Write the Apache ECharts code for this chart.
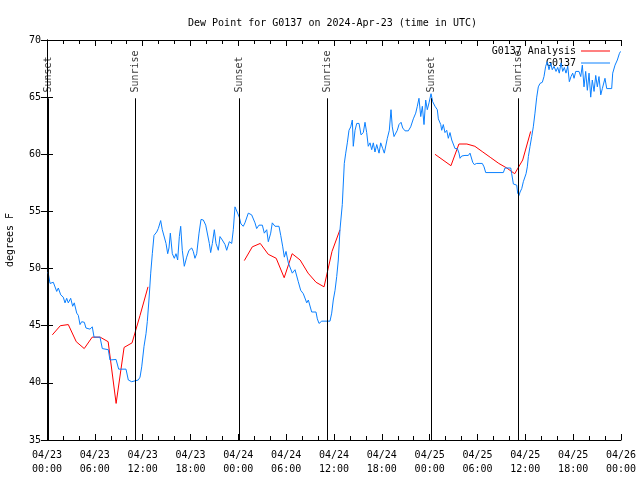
<!DOCTYPE html>
<html>
<head>
<meta charset="utf-8">
<script src="https://cdn.jsdelivr.net/npm/echarts@6/dist/echarts.min.js"></script>
<style>html,body{margin:0;padding:0;background:#fff}#c{width:640px;height:480px}</style>
</head>
<body>
<div id="c"></div>
<script>
// Hours since 2024-04-23 00:00 UTC
const obsTimes = [0.13,0.38,0.79,1.22,1.42,1.72,2.04,2.26,2.47,2.67,2.97,3.22,3.42,3.73,3.93,4.14,4.35,4.68,4.89,5.39,5.68,5.90,6.65,6.94,7.69,7.90,8.66,8.74,8.99,9.91,10.20,10.62,11.45,11.67,11.88,12.17,12.42,12.58,12.79,13.01,13.21,13.42,13.76,13.96,14.26,14.46,14.68,14.93,15.14,15.30,15.47,15.72,15.97,16.18,16.39,16.60,16.77,16.97,17.22,17.52,17.81,18.15,18.35,18.56,18.78,19.07,19.32,19.61,19.91,20.16,20.36,20.53,20.74,20.99,21.20,21.49,21.70,21.99,22.33,22.54,22.87,23.17,23.37,23.58,23.80,24.12,24.33,24.62,24.83,25.25,25.67,26.09,26.30,26.59,27.01,27.26,27.56,27.76,28.06,28.26,28.60,29.10,29.32,29.57,29.77,29.98,30.27,30.48,30.77,31.11,31.32,31.52,31.82,32.15,32.58,32.78,32.99,33.20,33.74,33.91,34.12,34.46,35.50,35.71,35.91,36.13,36.34,36.54,36.75,37.04,37.29,37.47,37.67,37.88,38.10,38.30,38.42,38.64,38.85,39.14,39.39,39.68,39.89,40.10,40.30,40.52,40.73,40.93,41.14,41.36,41.65,41.86,42.11,42.31,42.52,42.69,42.94,43.15,43.31,43.53,43.74,43.94,44.15,44.41,44.62,44.91,45.32,45.62,45.95,46.25,46.45,46.66,46.88,47.08,47.29,47.50,47.70,47.92,48.17,48.38,48.67,48.96,49.09,49.39,49.51,49.71,49.92,50.14,50.34,50.55,50.77,50.97,51.18,51.47,51.68,51.81,52.02,52.43,52.85,53.06,53.27,53.40,53.60,53.90,54.60,54.82,55.03,57.24,57.45,58.17,58.29,58.42,58.50,58.92,59.04,59.21,59.34,59.55,59.75,59.96,60.09,60.25,60.38,60.59,60.80,61.00,61.21,61.43,61.63,61.84,62.13,62.34,62.55,62.76,62.97,63.18,63.38,63.60,63.85,64.06,64.26,64.48,64.69,64.89,65.10,65.32,65.52,65.73,65.94,66.11,66.32,66.52,66.73,66.95,67.15,67.36,67.57,67.78,67.99,68.20,68.40,68.62,68.83,69.03,69.24,69.46,69.66,69.99,70.21,70.83,70.96,71.25,71.54,71.79,71.94];
const obsValues = [49.7,48.7,48.8,48.0,48.3,47.7,47.5,47.0,47.4,47.0,47.4,46.7,47.0,46.1,45.9,45.1,45.35,45.3,44.8,44.7,44.9,44.0,44.0,43.0,42.9,42.0,42.05,42.1,41.2,41.2,40.25,40.1,40.25,40.5,41.4,43.2,44.3,45.35,47.25,49.6,51.3,52.9,53.2,53.5,54.2,53.4,53.5,52.2,51.3,51.8,53.1,51.3,50.9,51.3,50.75,52.8,53.7,51.6,50.2,51.0,51.6,51.8,51.5,50.9,51.3,53.1,54.3,54.25,53.8,53.7,52.2,51.4,52.2,53.4,52.2,51.6,52.8,52.5,52.1,51.6,52.35,52.2,53.4,55.4,55.3,54.5,53.9,53.7,54.0,54.85,54.7,54.0,53.5,53.8,53.8,53.1,53.4,52.35,53.1,54.0,53.7,53.7,52.9,51.9,51.0,51.5,50.5,50.6,49.6,49.9,49.9,48.85,48.1,47.8,47.0,47.25,47.25,46.2,46.2,45.6,45.2,45.4,45.4,46.1,47.25,48.1,49.3,50.75,53.4,55.6,59.2,60.1,61.0,62.1,62.4,63.0,60.7,62.1,62.7,62.7,61.7,61.9,62.8,61.9,60.7,61.0,60.4,61.0,60.2,60.85,60.1,61.0,60.5,60.1,60.1,61.4,62.1,63.9,62.4,61.55,61.55,62.1,62.6,62.8,62.3,62.05,62.05,62.4,63.1,63.6,64.2,64.9,63.3,64.2,62.6,64.75,63.9,64.5,65.3,64.6,64.2,63.9,63.1,62.6,62.1,62.6,61.9,62.1,61.4,61.9,61.25,61.25,60.5,60.5,60.1,59.65,59.85,59.9,59.9,60.1,60.1,59.3,59.1,59.2,59.2,58.9,58.4,58.4,58.8,58.8,58.3,57.75,57.4,57.3,56.6,56.4,56.7,57.0,57.6,57.75,58.3,58.9,59.8,60.7,61.55,62.4,63.6,65.0,65.9,66.2,66.3,66.8,67.7,68.1,67.4,68.0,67.4,67.7,67.25,67.6,67.1,68.0,67.25,67.6,67.1,67.7,66.35,66.8,67.1,66.65,67.25,67.1,67.25,66.8,67.8,65.9,67.25,65.6,67.1,65.0,66.5,65.5,66.9,65.9,66.8,65.2,65.75,66.65,65.75,65.75,67.1,67.8,68.25,68.8,69.0];

// Analysis segments (hours, value)
const anaTimes1 = [0.67,1.67,2.67,3.67,4.67,5.67,6.67,7.67,8.67,9.67,10.67,11.67,12.67];
const anaValues1 = [44.2,45.0,45.1,43.6,43.0,44.0,44.0,43.6,38.2,43.1,43.5,45.9,48.4];
const anaTimes2 = [24.75,25.75,26.75,27.75,28.75,29.75,30.75,31.75,32.75,33.75,34.75,35.75,36.75];
const anaValues2 = [50.7,51.9,52.2,51.25,50.9,49.2,51.3,50.75,49.6,48.8,48.4,51.5,53.4];
const anaTimes3 = [48.67,49.67,50.67,51.67,52.67,53.67,54.67,55.67,56.67,57.67,58.67,59.67,60.67];
const anaValues3 = [60.0,59.5,59.0,60.9,60.9,60.7,60.2,59.7,59.2,58.8,58.3,59.5,62.0];

const sunTimes = [0.15,11.08,24.08,35.16,48.21,59.12];
const sunNames = ['Sunset','Sunrise','Sunset','Sunrise','Sunset','Sunrise'];
const sunLineTop = 64.9;
const sunLabelBase = 65.4;

const seriesNames = ['G0137 Analysis','G0137'];
const titleText = 'Dew Point for G0137 on 2024-Apr-23 (time in UTC)';
const yAxisName = 'degrees F';

const FONT = 'DejaVu Sans Mono';
const baseMs = Date.UTC(2024,3,23,0,0,0);
function pad(n){return (n<10?'0':'')+n;}
function fmtX(v){
  const d = new Date(baseMs + Math.round(v*3600000));
  return pad(d.getUTCMonth()+1)+'/'+pad(d.getUTCDate())+'\n'+pad(d.getUTCHours())+':'+pad(d.getUTCMinutes());
}
function zip(t,v){return t.map((x,i)=>[x,v[i]]);}
const anaData = zip(anaTimes1,anaValues1).concat([[18,null]], zip(anaTimes2,anaValues2), [[42,null]], zip(anaTimes3,anaValues3));
const obsData = zip(obsTimes,obsValues);

const chart = echarts.init(document.getElementById('c'), null, {renderer:'canvas'});
const axisCommon = {
  min:0, max:72, interval:6,
  axisLine:{show:true, lineStyle:{color:'#000', width:1}},
  splitLine:{show:false}
};
chart.setOption({
  animation:false,
  backgroundColor:'#fff',
  textStyle:{fontFamily:FONT},
  title:{text:titleText, left:183, top:13, textStyle:{fontFamily:FONT, fontSize:10, fontWeight:'normal', color:'#000'}},
  grid:{left:47, right:19, top:40, bottom:40, containLabel:false, outerBoundsMode:'none'},
  legend:[
    {data:[seriesNames[0]], right:30, top:46, padding:0, orient:'vertical', align:'right', icon:'rect', itemWidth:29, itemHeight:1, itemGap:6,
     textStyle:{fontFamily:FONT, fontSize:10, color:'#000'}},
    {data:[seriesNames[1]], right:30, top:58, padding:0, orient:'vertical', align:'right', icon:'rect', itemWidth:29, itemHeight:1, itemGap:6,
     textStyle:{fontFamily:FONT, fontSize:10, color:'#000'}}
  ],
  xAxis:[
    Object.assign({type:'value', position:'bottom',
      axisTick:{show:true, inside:true, length:6, lineStyle:{color:'#000'}},
      minorTick:{show:true, splitNumber:3, length:4, lineStyle:{color:'#000'}},
      axisLabel:{formatter:fmtX, fontFamily:FONT, fontSize:10, color:'#000', lineHeight:14, margin:8}
    }, axisCommon),
    Object.assign({type:'value', position:'top',
      axisTick:{show:true, inside:true, length:6, lineStyle:{color:'#000'}},
      minorTick:{show:true, splitNumber:3, length:4, lineStyle:{color:'#000'}},
      axisLabel:{show:false}
    }, axisCommon)
  ],
  yAxis:[
    {type:'value', min:35, max:70, interval:5, position:'left',
     name:yAxisName, nameLocation:'middle', nameRotate:90, nameGap:32,
     nameTextStyle:{fontFamily:FONT, fontSize:10, color:'#000'},
     axisLine:{show:true, lineStyle:{color:'#000'}},
     axisTick:{show:true, inside:true, length:6, lineStyle:{color:'#000'}},
     axisLabel:{fontFamily:FONT, fontSize:10, color:'#000', margin:6},
     splitLine:{show:false}},
    {type:'value', min:35, max:70, interval:5, position:'right',
     axisLine:{show:true, lineStyle:{color:'#000'}},
     axisTick:{show:true, inside:true, length:6, lineStyle:{color:'#000'}},
     axisLabel:{show:false}, splitLine:{show:false}}
  ],
  series:[
    {name:seriesNames[0], type:'line', data:anaData, showSymbol:false, symbol:'none', connectNulls:false,
     lineStyle:{color:'#ff0000', width:1}, itemStyle:{color:'#ff0000'}, z:3},
    {name:seriesNames[1], type:'line', data:obsData, showSymbol:false, symbol:'none',
     lineStyle:{color:'#0a80ff', width:1}, itemStyle:{color:'#0a80ff'}, z:4},
    {name:'sun', type:'line', data:[], symbol:'none',
     markLine:{silent:true, symbol:['none','none'], label:{show:false},
       lineStyle:{color:'#000', width:1, type:'solid'},
       data: sunTimes.map(t=>[{coord:[t,35]},{coord:[t,sunLineTop]}])}},
    {name:'sunLabels', type:'scatter', symbolSize:1, itemStyle:{color:'rgba(0,0,0,0)'}, silent:true,
     data: sunTimes.map((t,i)=>({value:[t,sunLabelBase], name:sunNames[i]})),
     label:{show:true, position:'inside', rotate:90, align:'left', verticalAlign:'middle',
       formatter:p=>p.name, fontFamily:FONT, fontSize:10, color:'#000'}}
  ]
});
</script>
</body>
</html>
